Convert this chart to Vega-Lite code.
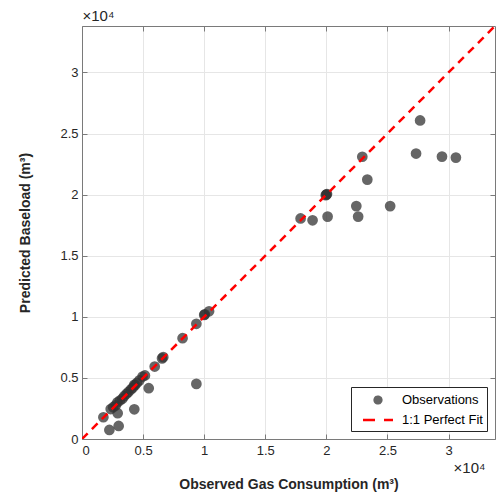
{
  "$schema": "https://vega.github.io/schema/vega-lite/v6.json",
  "autosize": "none",
  "width": 413,
  "height": 413,
  "padding": {"left": 82, "top": 26, "right": 7, "bottom": 57},
  "background": "white",
  "config": {
    "view": {"stroke": null},
    "font": "Liberation Sans",
    "axis": {
      "labelFont": "Liberation Sans",
      "labelFontSize": 13,
      "labelColor": "#262626",
      "titleFont": "Liberation Sans",
      "titleFontSize": 14,
      "titleFontWeight": "bold",
      "titleColor": "#262626",
      "domainColor": "#7a7a7a",
      "domainWidth": 1,
      "tickColor": "#7a7a7a",
      "tickSize": -5,
      "gridColor": "#e6e6e6",
      "gridWidth": 1
    },
    "legend": {
      "orient": "bottom-right",
      "offset": 8,
      "padding": 4,
      "fillColor": "white",
      "strokeColor": "#262626",
      "labelFont": "Liberation Sans",
      "labelFontSize": 13,
      "labelColor": "#000000",
      "symbolSize": 225,
      "symbolOffset": 14,
      "labelOffset": 15,
      "rowPadding": 2
    }
  },
  "datasets": {
    "obs": [
      {"observed": 27670, "predicted": 26070},
      {"observed": 27340, "predicted": 23360},
      {"observed": 29460, "predicted": 23110},
      {"observed": 30600, "predicted": 23030},
      {"observed": 22940, "predicted": 23100},
      {"observed": 23350, "predicted": 21230},
      {"observed": 22450, "predicted": 19060},
      {"observed": 22600, "predicted": 18200},
      {"observed": 25220, "predicted": 19060},
      {"observed": 19950, "predicted": 19950},
      {"observed": 20050, "predicted": 20050},
      {"observed": 20000, "predicted": 20000},
      {"observed": 17890, "predicted": 18050},
      {"observed": 18870, "predicted": 17900},
      {"observed": 20100, "predicted": 18200},
      {"observed": 10400, "predicted": 10450},
      {"observed": 10000, "predicted": 10150},
      {"observed": 10050, "predicted": 10200},
      {"observed": 9360, "predicted": 9430},
      {"observed": 8230, "predicted": 8250},
      {"observed": 6550, "predicted": 6600},
      {"observed": 6650, "predicted": 6700},
      {"observed": 5950, "predicted": 5930},
      {"observed": 9360, "predicted": 4510},
      {"observed": 5460, "predicted": 4160},
      {"observed": 4960, "predicted": 5110},
      {"observed": 5150, "predicted": 5200},
      {"observed": 4280, "predicted": 4430},
      {"observed": 4280, "predicted": 2430},
      {"observed": 3000, "predicted": 1070},
      {"observed": 2240, "predicted": 740},
      {"observed": 1750, "predicted": 1780},
      {"observed": 2920, "predicted": 2110},
      {"observed": 2350, "predicted": 2450},
      {"observed": 2550, "predicted": 2600},
      {"observed": 2750, "predicted": 2750},
      {"observed": 2900, "predicted": 3000},
      {"observed": 3100, "predicted": 3150},
      {"observed": 3300, "predicted": 3300},
      {"observed": 3450, "predicted": 3500},
      {"observed": 3650, "predicted": 3700},
      {"observed": 3800, "predicted": 3850},
      {"observed": 4000, "predicted": 4050},
      {"observed": 4150, "predicted": 4200},
      {"observed": 4350, "predicted": 4400},
      {"observed": 4500, "predicted": 4600},
      {"observed": 4700, "predicted": 4800}
    ],
    "fit": [
      {"observed": 0, "predicted": 0},
      {"observed": 33800, "predicted": 33800}
    ]
  },
  "layer": [
    {
      "data": {"name": "obs"},
      "mark": {"type": "point", "filled": true, "size": 115, "opacity": 0.75, "strokeWidth": 0},
      "encoding": {
        "x": {
          "field": "observed", "type": "quantitative",
          "scale": {"domain": [0, 33800], "nice": false, "zero": true},
          "axis": {
            "orient": "bottom",
            "title": "Observed Gas Consumption (m³)",
            "values": [0, 5000, 10000, 15000, 20000, 25000, 30000],
            "labelExpr": "datum.value / 10000",
            "labelPadding": 10,
            "titlePadding": 20,
            "grid": true
          }
        },
        "y": {
          "field": "predicted", "type": "quantitative",
          "scale": {"domain": [0, 33800], "nice": false, "zero": true},
          "axis": {
            "orient": "left",
            "title": "Predicted Baseload (m³)",
            "values": [0, 5000, 10000, 15000, 20000, 25000, 30000],
            "labelExpr": "datum.value / 10000",
            "labelPadding": 9,
            "titlePadding": 27,
            "grid": true
          }
        },
        "color": {
          "datum": "Observations",
          "scale": {"domain": ["Observations", "1:1 Perfect Fit"], "range": ["#333333", "#ff0000"]},
          "legend": {
            "title": null,
            "symbolType": "circle",
            "encode": {
              "symbols": {
                "update": {
                  "shape": {"signal": "datum.label === 'Observations' ? 'circle' : 'M-2,0H2'"},
                  "size": {"signal": "datum.label === 'Observations' ? 45 : 225"},
                  "fill": {"signal": "datum.label === 'Observations' ? '#333333' : 'transparent'"},
                  "stroke": {"signal": "datum.label === 'Observations' ? 'transparent' : '#ff0000'"},
                  "strokeWidth": {"value": 2.5},
                  "strokeDash": {"signal": "datum.label === 'Observations' ? [1, 0] : [12, 9]"},
                  "opacity": {"signal": "datum.label === 'Observations' ? 0.75 : 1"}
                }
              }
            }
          }
        }
      }
    },
    {
      "data": {"name": "fit"},
      "mark": {"type": "line", "strokeDash": [8, 6], "strokeWidth": 2.5, "clip": true},
      "encoding": {
        "x": {
          "field": "observed", "type": "quantitative",
          "axis": {
            "orient": "top",
            "title": "×10⁴",
            "titleFontWeight": "normal",
            "titleFontSize": 15,
            "titleAnchor": "start",
            "titleAlign": "left",
            "titleBaseline": "bottom",
            "titleX": 0,
            "titleY": -3,
            "values": [0, 5000, 10000, 15000, 20000, 25000, 30000],
            "labels": false,
            "grid": false
          }
        },
        "y": {
          "field": "predicted", "type": "quantitative",
          "axis": {
            "orient": "right",
            "title": "×10⁴",
            "titleFontWeight": "normal",
            "titleFontSize": 15,
            "titleColor": "#262626",
            "titleAngle": 0,
            "titleAlign": "right",
            "titleBaseline": "middle",
            "titleX": -10,
            "titleY": 441,
            "values": [0, 5000, 10000, 15000, 20000, 25000, 30000],
            "labels": false,
            "grid": false
          }
        },
        "color": {
          "datum": "1:1 Perfect Fit",
          "legend": {
            "title": null,
            "encode": {
              "symbols": {
                "update": {
                  "shape": {"signal": "datum.label === 'Observations' ? 'circle' : 'M-2,0H2'"},
                  "size": {"signal": "datum.label === 'Observations' ? 45 : 225"},
                  "fill": {"signal": "datum.label === 'Observations' ? '#333333' : 'transparent'"},
                  "stroke": {"signal": "datum.label === 'Observations' ? 'transparent' : '#ff0000'"},
                  "strokeWidth": {"value": 2.5},
                  "strokeDash": {"signal": "datum.label === 'Observations' ? [1, 0] : [12, 9]"},
                  "opacity": {"signal": "datum.label === 'Observations' ? 0.75 : 1"}
                }
              }
            }
          }
        }
      }
    }
  ],
  "resolve": {"axis": {"x": "independent", "y": "independent"}}
}
